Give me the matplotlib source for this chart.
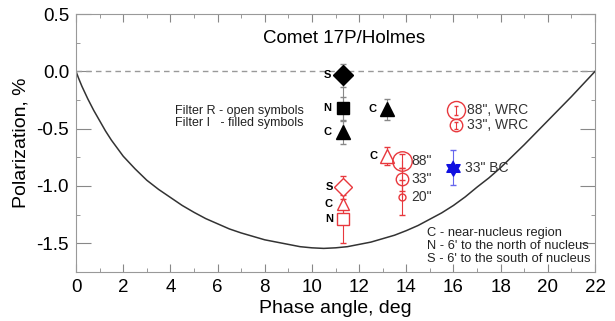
import matplotlib.pyplot as plt
from matplotlib.path import Path
from matplotlib.ticker import MultipleLocator
import numpy as np

plt.rcParams['font.family'] = ['Liberation Sans', 'DejaVu Sans']

# fitted phase curve
curve_x = [0, 0.1, 0.25, 0.5, 0.75, 1, 1.25, 1.5, 2, 2.5, 3, 3.5, 4, 4.5, 5, 5.5, 6, 6.5, 7, 7.5, 8, 8.5, 9,
           9.5, 10, 10.5, 11, 11.5, 12, 12.5, 13, 13.5, 14, 14.5, 15, 15.5, 16, 16.5, 17, 17.5, 18, 18.5, 19,
           19.5, 20, 20.5, 21, 21.5, 22]
curve_y = [0, -0.055, -0.13, -0.24, -0.34, -0.43, -0.52, -0.60, -0.74, -0.85, -0.95, -1.03, -1.10, -1.17,
           -1.23, -1.285, -1.33, -1.375, -1.41, -1.44, -1.47, -1.49, -1.51, -1.53, -1.54, -1.545, -1.54,
           -1.53, -1.51, -1.49, -1.46, -1.43, -1.39, -1.345, -1.29, -1.235, -1.17, -1.095, -1.01, -0.93,
           -0.84, -0.74, -0.64, -0.535, -0.43, -0.325, -0.22, -0.11, 0]

# filter I (filled black)
fI_x = [11.3, 11.3, 11.3, 13.2]
fI_y = [-0.035, -0.32, -0.53, -0.33]
fI_err = [0.1, 0.1, 0.1, 0.09]
fI_mark = ['D', 's', '^', '^']
fI_size = [10, 9, 10, 10]
fI_lab = ['S', 'N', 'C', 'C']

# filter R (open red)
fR_x = [11.3, 11.3, 11.3, 13.2]
fR_y = [-1.01, -1.16, -1.29, -0.74]
fR_err = [0.1, 0.1, 0.21, 0.08]
fR_mark = ['D', '^', 's', '^']
fR_size = [9, 9, 9, 10]
fR_lab = ['S', 'C', 'N', 'C']

# apertures at 13.8 deg
ap_x = [13.8, 13.8, 13.8]
ap_y = [-0.78, -0.94, -1.10]
ap_err = [0.06, 0.1, 0.15]
ap_size = [14, 9, 5]
ap_lab = ['88"', '33"', '20"']

# WRC
wrc_x = [16.1, 16.1]
wrc_y = [-0.34, -0.47]
wrc_err = [0.04, 0.03]
wrc_size = [13, 9]
wrc_lab = ['88", WRC', '33", WRC']

# BC
bc_x = [16.0]
bc_y = [-0.84]
bc_err = [0.15]

# six-pointed star marker
ang = np.pi / 2 + np.arange(12) * np.pi / 6
rad = np.where(np.arange(12) % 2 == 0, 1.0, 0.577)
star6 = Path(np.column_stack([rad * np.cos(ang), rad * np.sin(ang)]))

red = '#e8383d'
fig = plt.figure(figsize=(6.15, 3.21), dpi=100)
ax = fig.add_axes([0.1236, 0.153, 0.8439, 0.803])

ax.axhline(0, color='#999999', lw=1, ls=(0, (4, 3)))
ax.plot(curve_x, curve_y, color='#333333', lw=1.1)

# line joining the filled points at 11.3
ax.plot(fI_x[:3], fI_y[:3], color='#888888', lw=0.8, zorder=1)

for i in range(len(fI_x)):
    ax.errorbar(fI_x[i], fI_y[i], yerr=fI_err[i], fmt=fI_mark[i], color='black', ms=fI_size[i],
                ecolor='#888888', elinewidth=0.8, capsize=2)
    ax.annotate(fI_lab[i], (fI_x[i], fI_y[i]), xytext=(-8, 0), textcoords='offset points',
                ha='right', va='center', fontsize=8, fontweight='bold')

for i in range(len(fR_x)):
    ax.errorbar(fR_x[i], fR_y[i], yerr=fR_err[i], fmt=fR_mark[i], mfc='white', mec=red, mew=1,
                ms=fR_size[i], ecolor=red, elinewidth=0.8, capsize=2)
    ax.annotate(fR_lab[i], (fR_x[i], fR_y[i]), xytext=(-7, 0), textcoords='offset points',
                ha='right', va='center', fontsize=8, fontweight='bold')

ax.plot(ap_x, ap_y, color=red, lw=0.8, zorder=1)
for i in range(len(ap_x)):
    ax.errorbar(ap_x[i], ap_y[i], yerr=ap_err[i], fmt='o', mfc='none', mec=red, mew=1,
                ms=ap_size[i], ecolor=red, elinewidth=0.8, capsize=2)
    ax.annotate(ap_lab[i], (ap_x[i], ap_y[i]), xytext=(7, 0), textcoords='offset points',
                ha='left', va='center', fontsize=10, color='#333333')

for i in range(len(wrc_x)):
    ax.errorbar(wrc_x[i], wrc_y[i], yerr=wrc_err[i], fmt='o', mfc='none', mec=red, mew=1,
                ms=wrc_size[i], ecolor=red, elinewidth=0.8, capsize=1.5)
    ax.annotate(wrc_lab[i], (wrc_x[i], wrc_y[i]), xytext=(8, 0), textcoords='offset points',
                ha='left', va='center', fontsize=10, color='#333333')

ax.errorbar(bc_x, bc_y, yerr=bc_err, fmt='none', ecolor='#6666ee', elinewidth=0.8, capsize=2)
ax.plot(bc_x, bc_y, marker=star6, ls='none', color='#1010e0', ms=11)
ax.annotate('33" BC', (bc_x[0], bc_y[0]), xytext=(8, 0), textcoords='offset points',
            ha='left', va='center', fontsize=10, color='#333333')

ax.text(0.516, 0.905, 'Comet 17P/Holmes', transform=ax.transAxes, ha='center', va='center', fontsize=13.5)
ax.text(0.19, 0.60, 'Filter R - open symbols\nFilter I   - filled symbols', transform=ax.transAxes,
        ha='left', va='center', fontsize=9, color='#222222', linespacing=1.05)
ax.text(0.676, 0.10, "C - near-nucleus region\nN - 6' to the north of nucleus\nS - 6' to the south of nucleus",
        transform=ax.transAxes, ha='left', va='center', fontsize=9.3, color='#222222', linespacing=1.1)

ax.set_xlim(0, 22)
ax.set_ylim(-1.75, 0.5)
ax.xaxis.set_major_locator(MultipleLocator(2))
ax.xaxis.set_minor_locator(MultipleLocator(1))
ax.yaxis.set_major_locator(MultipleLocator(0.5))
ax.yaxis.set_minor_locator(MultipleLocator(0.25))
ax.set_yticks([0.5, 0.0, -0.5, -1.0, -1.5])
ax.set_yticklabels(['0.5', '0.0', '-0.5', '-1.0', '-1.5'])
ax.tick_params(which='both', direction='in', top=True, right=True, color='#888888', labelsize=13.5, pad=5)
ax.tick_params(axis='y', which='major', length=11)
ax.tick_params(axis='x', which='major', length=6)
ax.tick_params(which='minor', length=3)
for s in ax.spines.values():
    s.set_color('#999999')
ax.set_xlabel('Phase angle, deg', fontsize=14, labelpad=3)
ax.set_ylabel('Polarization, %', fontsize=14, labelpad=5)

fig.savefig('out.png', dpi=100)
